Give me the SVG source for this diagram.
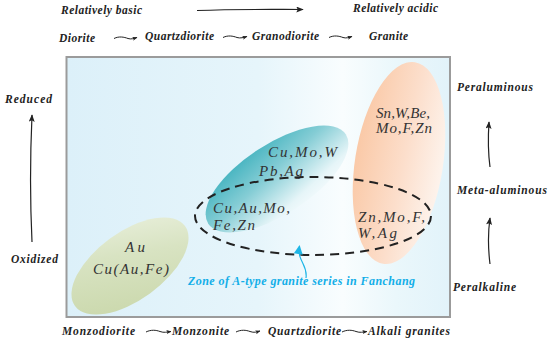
<svg xmlns="http://www.w3.org/2000/svg" width="550" height="345" viewBox="0 0 550 345">
<defs>
<linearGradient id="bg" x1="0" y1="0" x2="1" y2="0">
<stop offset="0" stop-color="#dcf0f9"/>
<stop offset="0.5" stop-color="#e6f5fb"/>
<stop offset="0.72" stop-color="#f9fdfe"/>
<stop offset="0.86" stop-color="#eaf7fb"/>
<stop offset="1" stop-color="#e2f3fa"/>
</linearGradient>
<linearGradient id="gOrange" x1="0" y1="0.4" x2="1" y2="0.5">
<stop offset="0" stop-color="#fac9a7"/>
<stop offset="0.55" stop-color="#fcdecb"/>
<stop offset="1" stop-color="#fdf3ec"/>
</linearGradient>
<linearGradient id="gTeal" x1="0.3" y1="0" x2="0.7" y2="1">
<stop offset="0" stop-color="#46b4c0"/>
<stop offset="0.4" stop-color="#85cdd5"/>
<stop offset="0.85" stop-color="#e6f5f8"/>
<stop offset="1" stop-color="#f2fafc"/>
</linearGradient>
<linearGradient id="gGreen" x1="0" y1="1" x2="1" y2="0">
<stop offset="0" stop-color="#c8d6a8"/>
<stop offset="0.6" stop-color="#d8e3c2"/>
<stop offset="1" stop-color="#ebf1df"/>
</linearGradient>
<marker id="ah" viewBox="0 0 10 8" refX="9" refY="4" markerWidth="8" markerHeight="6" orient="auto" markerUnits="userSpaceOnUse">
<path d="M0,0 L10,4 L0,8 L2,4 z" fill="#222"/>
</marker>
<marker id="ahs" viewBox="0 0 10 8" refX="9" refY="4" markerWidth="5" markerHeight="4" orient="auto" markerUnits="userSpaceOnUse">
<path d="M0,0 L10,4 L0,8 L2,4 z" fill="#222"/>
</marker>
<marker id="ahc" viewBox="0 0 10 10" refX="9" refY="5" markerWidth="10" markerHeight="9" orient="auto" markerUnits="userSpaceOnUse">
<path d="M0,0 L10,5 L0,10 z" fill="#1fb6e6"/>
</marker>
</defs>
<style>
.lab{font-family:"Liberation Serif","Times New Roman",serif;font-style:italic;font-weight:bold;font-size:11.5px;fill:#222;}
.el{font-family:"Liberation Serif","Times New Roman",serif;font-style:italic;font-size:15px;fill:#333;}
.zone{font-family:"Liberation Serif","Times New Roman",serif;font-style:italic;font-weight:bold;font-size:12px;fill:#12aee8;}
.arr{fill:none;stroke:#222;stroke-width:1.2;}
.sq{fill:none;stroke:#222;stroke-width:1;}
</style>

<g id="frame">
<rect x="66.5" y="57" width="383.5" height="260" fill="url(#bg)" stroke="#9b9b9b" stroke-width="2"/>
</g>

<g id="zone-orange">
<ellipse cx="399" cy="163" rx="44" ry="102" transform="rotate(9 399 163)" fill="url(#gOrange)"/>
<text class="el" x="376" y="118" textLength="54" lengthAdjust="spacing">Sn,W,Be,</text>
<text class="el" x="376" y="133" textLength="56" lengthAdjust="spacing">Mo,F,Zn</text>
<text class="el" x="358" y="222" textLength="67" lengthAdjust="spacing">Zn,Mo,F,</text>
<text class="el" x="358" y="238" textLength="39" lengthAdjust="spacing">W,Ag</text>
</g>

<g id="zone-teal">
<ellipse cx="277" cy="179" rx="82" ry="35" transform="rotate(-33 277 179)" fill="url(#gTeal)"/>
<text class="el" x="268" y="157" textLength="69" lengthAdjust="spacing">Cu,Mo,W</text>
<text class="el" x="259" y="176" textLength="44" lengthAdjust="spacing">Pb,Ag</text>
<text class="el" x="213" y="213" textLength="77" lengthAdjust="spacing">Cu,Au,Mo,</text>
<text class="el" x="213" y="230" textLength="42" lengthAdjust="spacing">Fe,Zn</text>
</g>

<g id="zone-green">
<ellipse cx="130" cy="266" rx="68" ry="34" transform="rotate(-36 130 266)" fill="url(#gGreen)"/>
<text class="el" x="125" y="252" textLength="20" lengthAdjust="spacing">Au</text>
<text class="el" x="93" y="274" textLength="76" lengthAdjust="spacing">Cu(Au,Fe)</text>
</g>

<g id="zone-fanchang">
<ellipse cx="313" cy="216" rx="118" ry="39" fill="none" stroke="#222" stroke-width="2" stroke-dasharray="9 6"/>
<text class="zone" x="188" y="285" textLength="227" lengthAdjust="spacing">Zone of A-type granite series in Fanchang</text>
</g>

<g id="labels">
<text class="lab" x="61" y="14" textLength="81" lengthAdjust="spacing">Relatively basic</text>
<text class="lab" x="353" y="12" textLength="85" lengthAdjust="spacing">Relatively acidic</text>
<text class="lab" x="59" y="42" textLength="36" lengthAdjust="spacing">Diorite</text>
<text class="lab" x="145" y="40" textLength="69" lengthAdjust="spacing">Quartzdiorite</text>
<text class="lab" x="252" y="40" textLength="67" lengthAdjust="spacing">Granodiorite</text>
<text class="lab" x="369" y="40" textLength="39" lengthAdjust="spacing">Granite</text>
<text class="lab" x="5" y="103" textLength="47" lengthAdjust="spacing">Reduced</text>
<text class="lab" x="11" y="263" textLength="47" lengthAdjust="spacing">Oxidized</text>
<text class="lab" x="457" y="91" textLength="76" lengthAdjust="spacing">Peraluminous</text>
<text class="lab" x="457" y="194" textLength="90" lengthAdjust="spacing">Meta-aluminous</text>
<text class="lab" x="453" y="291" textLength="63" lengthAdjust="spacing">Peralkaline</text>
<text class="lab" x="62" y="335" textLength="73" lengthAdjust="spacing">Monzodiorite</text>
<text class="lab" x="172" y="335" textLength="57" lengthAdjust="spacing">Monzonite</text>
<text class="lab" x="268" y="335" textLength="73" lengthAdjust="spacing">Quartzdiorite</text>
<text class="lab" x="368" y="335" textLength="82" lengthAdjust="spacing">Alkali granites</text>
</g>

<g id="connectors">
<path class="arr" d="M197,10.5 C240,9 270,9.5 303,9.5" marker-end="url(#ah)"/>
<path class="arr" d="M32,242 C30,200 30,160 32,115" marker-end="url(#ah)"/>
<path class="arr" d="M490,167 C488,152 488,137 489,122" marker-end="url(#ah)"/>
<path class="arr" d="M490,264 C488,248 488,232 490,218" marker-end="url(#ah)"/>
<path class="sq" d="M114,38.5 C119,36 124,37 128,38.5 C131,39.5 134,38.5 137,37.5" marker-end="url(#ahs)"/>
<path class="sq" d="M223,37.5 C228,35 233,36 237,37.5 C240,38.5 244,37.5 247,36.5" marker-end="url(#ahs)"/>
<path class="sq" d="M329,37.5 C334,35 339,36 343,37.5 C346,38.5 349,37.5 352,36.5" marker-end="url(#ahs)"/>
<path class="sq" d="M146,332 C151,329.5 156,330 160,331.5 C164,333 167,332 171,331.5" marker-end="url(#ahs)"/>
<path class="sq" d="M236,332 C241,329.5 246,330 250,331.5 C254,333 257,332 260,331" marker-end="url(#ahs)"/>
<path class="sq" d="M342,332 C347,329.5 352,330 356,331.5 C360,333 363,332 367,331.5" marker-end="url(#ahs)"/>
<path d="M306,278 C308,264 297,262 299.5,246" fill="none" stroke="#1fb6e6" stroke-width="1.2" marker-end="url(#ahc)"/>
</g>
</svg>
